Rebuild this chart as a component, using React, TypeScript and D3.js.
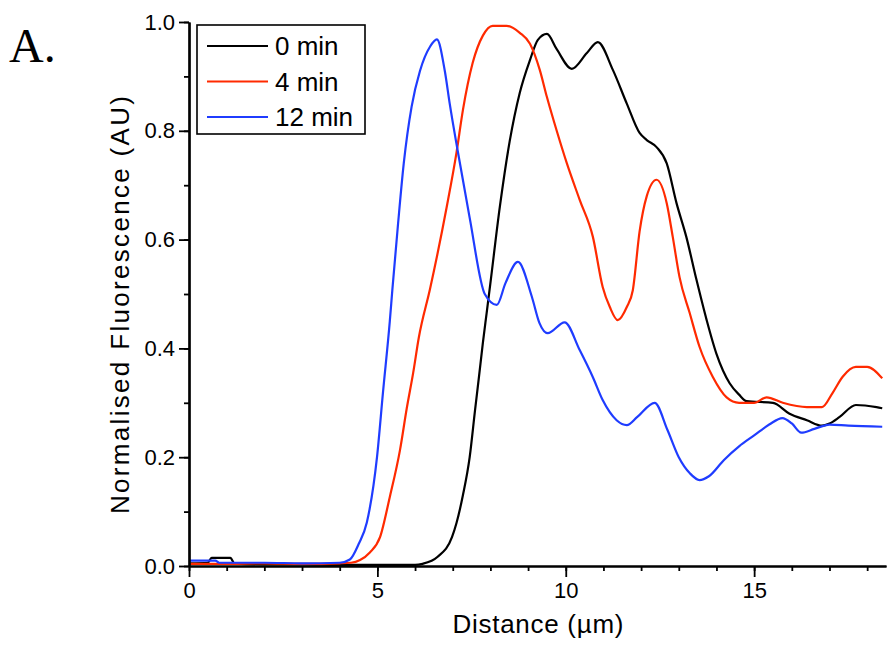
import { useEffect, useRef } from "react";
import * as d3 from "d3";

// [distance (µm), normalised fluorescence]
const min0 = [
  [0, 0.005], [0.5, 0.006], [0.6, 0.015], [1.1, 0.015], [1.2, 0.005], [2, 0.003],
  [3, 0.003], [4, 0.002], [5, 0.002], [6, 0.002], [6.2, 0.004], [6.6, 0.017],
  [6.98, 0.053], [7.1, 0.079], [7.27, 0.13], [7.45, 0.2], [7.59, 0.285], [7.7, 0.35],
  [7.8, 0.41], [7.9, 0.465], [8.0, 0.52], [8.25, 0.66], [8.51, 0.78], [8.78, 0.87],
  [9.05, 0.93], [9.26, 0.967], [9.5, 0.978], [9.76, 0.95], [10.16, 0.914], [10.56, 0.943],
  [10.85, 0.963], [11.25, 0.912], [11.62, 0.85], [11.96, 0.796], [12.15, 0.783], [12.41, 0.77],
  [12.68, 0.74], [12.94, 0.667], [13.2, 0.605], [13.47, 0.526], [13.74, 0.452], [14.0, 0.39],
  [14.35, 0.336], [14.6, 0.315], [14.8, 0.303], [15.5, 0.3], [15.94, 0.28], [16.4, 0.268],
  [16.8, 0.258], [17.0, 0.262], [17.27, 0.274], [17.7, 0.296], [18.25, 0.292], [18.4, 0.29],
];

const min4 = [
  [0, 0.004], [1, 0.004], [2, 0.005], [3, 0.004], [4, 0.005], [4.3, 0.006],
  [4.54, 0.011], [4.8, 0.025], [5.07, 0.053], [5.33, 0.127], [5.6, 0.213], [5.78, 0.29],
  [5.95, 0.355], [6.1, 0.42], [6.4, 0.51], [6.84, 0.66], [7.1, 0.76],
  [7.27, 0.838], [7.53, 0.925], [7.8, 0.975], [8.06, 0.993], [8.43, 0.993], [8.78, 0.98],
  [9.05, 0.96], [9.31, 0.912], [9.5, 0.862], [9.76, 0.8], [10.03, 0.74], [10.37, 0.673],
  [10.72, 0.605], [10.98, 0.513], [11.17, 0.476], [11.38, 0.452], [11.62, 0.476], [11.78, 0.507],
  [11.96, 0.615], [12.15, 0.68], [12.41, 0.71], [12.68, 0.667], [12.84, 0.605], [13.02, 0.531],
  [13.29, 0.465], [13.55, 0.403], [13.9, 0.348], [14.27, 0.31], [14.6, 0.3], [15.0, 0.3],
  [15.33, 0.31], [15.76, 0.3], [16.4, 0.292], [16.8, 0.292], [17.08, 0.318], [17.35, 0.348],
  [17.7, 0.366], [18.0, 0.366], [18.4, 0.345],
];

const min12 = [
  [0, 0.01], [0.7, 0.01], [0.8, 0.006], [2, 0.006], [3, 0.005], [4, 0.006],
  [4.27, 0.012], [4.5, 0.04], [4.72, 0.08], [4.99, 0.2], [5.15, 0.32], [5.33, 0.45],
  [5.4, 0.51], [5.55, 0.63], [5.7, 0.74], [5.91, 0.845], [6.13, 0.91], [6.4, 0.955],
  [6.58, 0.968], [6.79, 0.91], [6.92, 0.85], [7.14, 0.76], [7.45, 0.64], [7.85, 0.5],
  [8.17, 0.48], [8.4, 0.52], [8.73, 0.559], [9.1, 0.495], [9.3, 0.447], [9.52, 0.428],
  [9.97, 0.448], [10.37, 0.397], [10.72, 0.347], [10.98, 0.305], [11.35, 0.268], [11.62, 0.259],
  [11.9, 0.274], [12.36, 0.3], [12.7, 0.25], [13.0, 0.2], [13.3, 0.17], [13.55, 0.158],
  [13.8, 0.165], [14.2, 0.195], [14.6, 0.22], [15.0, 0.24], [15.4, 0.26], [15.75, 0.272],
  [16.0, 0.262], [16.25, 0.245], [16.6, 0.252], [17.0, 0.26], [17.5, 0.258], [18.4, 0.256],
];

const series = [
  { name: "0 min", color: "#000000", data: min0 },
  { name: "4 min", color: "#ff2a00", data: min4 },
  { name: "12 min", color: "#1f3cff", data: min12 },
];

const xMajor = [0, 5, 10, 15];
const yMajor = [0, 0.2, 0.4, 0.6, 0.8, 1.0];

const font = "'Liberation Sans', Arial, sans-serif";

export default function App() {
  const xRef = useRef<SVGGElement>(null);
  const yRef = useRef<SVGGElement>(null);

  const x = d3.scaleLinear().domain([0, 18.5]).range([189, 886]);
  const y = d3.scaleLinear().domain([0, 1]).range([566, 22]);

  const line = d3.line<number[]>()
    .x((d) => x(d[0]))
    .y((d) => y(d[1]))
    .curve(d3.curveMonotoneX);

  useEffect(() => {
    const gx = d3.select(xRef.current);
    gx.selectAll("*").remove();
    gx.append("g").call(
      d3.axisBottom(x).tickValues(d3.range(0, 19)).tickSize(5).tickSizeOuter(0).tickFormat(() => "")
    );
    gx.append("g").call(
      d3.axisBottom(x).tickValues(xMajor).tickSize(11).tickSizeOuter(0).tickPadding(5).tickFormat(d3.format("d"))
    );

    const gy = d3.select(yRef.current);
    gy.selectAll("*").remove();
    gy.append("g").call(
      d3.axisLeft(y).tickValues(d3.range(0, 11).map((i) => i / 10)).tickSize(5).tickSizeOuter(0).tickFormat(() => "")
    );
    gy.append("g").call(
      d3.axisLeft(y).tickValues(yMajor).tickSize(10).tickSizeOuter(0).tickPadding(4).tickFormat(d3.format(".1f"))
    );

    [gx, gy].forEach((g) => {
      g.selectAll("path.domain").attr("stroke", "#000").attr("stroke-width", 2.2);
      g.selectAll(".tick line").attr("stroke", "#000").attr("stroke-width", 1.8);
      g.selectAll(".tick text")
        .attr("fill", "#000")
        .style("font-family", font)
        .style("font-size", "22px");
    });
  }, []);

  return (
    <div style={{ position: "absolute", left: 0, top: 0 }}>
      <svg width={889} height={652} style={{ display: "block", background: "#fff" }}>
        <text x={9} y={62} style={{ fontFamily: "'Liberation Serif', 'Times New Roman', serif", fontSize: 48 }}>
          A.
        </text>

        {series.map((s) => (
          <path key={s.name} d={line(s.data) ?? ""} fill="none" stroke={s.color} strokeWidth={2.2} />
        ))}

        <g ref={xRef} transform="translate(0,566)" />
        <g ref={yRef} transform="translate(189,0)" />

        <rect x={197} y={25} width={168} height={109} fill="#fff" stroke="#000" strokeWidth={1.6} />
        {series.map((s, i) => (
          <g key={s.name} transform={`translate(0,${46 + i * 35.5})`}>
            <line x1={207} x2={268} y1={0} y2={0} stroke={s.color} strokeWidth={2.2} />
            <text x={275} y={9} style={{ fontFamily: font, fontSize: 26 }}>{s.name}</text>
          </g>
        ))}

        <text
          x={538}
          y={633}
          textAnchor="middle"
          textLength={171}
          style={{ fontFamily: font, fontSize: 26 }}
        >
          Distance (µm)
        </text>
        <text
          transform="translate(129,305) rotate(-90)"
          textAnchor="middle"
          textLength={418}
          style={{ fontFamily: font, fontSize: 26 }}
        >
          Normalised Fluorescence (AU)
        </text>
      </svg>
    </div>
  );
}
